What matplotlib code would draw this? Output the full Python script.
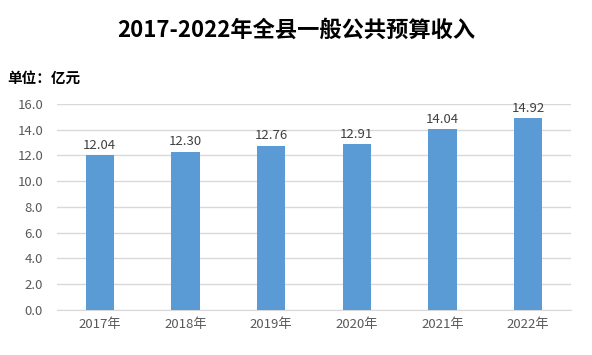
import matplotlib
matplotlib.use("Agg")
import matplotlib.pyplot as plt

plt.rcParams['font.family'] = ['Noto Sans CJK SC', 'DejaVu Sans']

years = ["2017年", "2018年", "2019年", "2020年", "2021年", "2022年"]
revenue = [12.04, 12.30, 12.76, 12.91, 14.04, 14.92]
yticks = [0, 2, 4, 6, 8, 10, 12, 14, 16]

fig = plt.figure(figsize=(5.92, 3.55), dpi=100)
ax = fig.add_axes([0.0963, 0.127, 0.868, 0.580])

x = range(len(years))
bars = ax.bar(x, revenue, width=0.33, color="#5B9BD5", zorder=3)
for i, v in enumerate(revenue):
    ax.text(i, v + 0.25, f"{v:.2f}", ha="center", va="bottom", fontsize=9.5, color="#404040")

ax.set_xlim(-0.5, len(years) - 0.5)
ax.set_ylim(0, 16)
ax.set_yticks(yticks)
ax.set_yticklabels([f"{t:.1f}" for t in yticks])
ax.set_xticks(list(x))
ax.set_xticklabels(years)
ax.tick_params(axis="both", length=0, labelsize=9.5, colors="#595959")
ax.tick_params(axis="y", pad=10)
ax.tick_params(axis="x", pad=6)
ax.grid(axis="y", color="#D9D9D9", linewidth=1, zorder=0)
for s in ["top", "right", "left"]:
    ax.spines[s].set_visible(False)
ax.spines["bottom"].set_color("#D9D9D9")

fig.text(0.5, 0.915, "2017-2022年全县一般公共预算收入", ha="center", va="center",
         fontsize=16, fontweight="bold", color="black")
fig.text(0.012, 0.78, "单位：亿元", ha="left", va="center", fontsize=10.5,
         fontweight="bold", color="black")

fig.savefig("out.png", dpi=100)
